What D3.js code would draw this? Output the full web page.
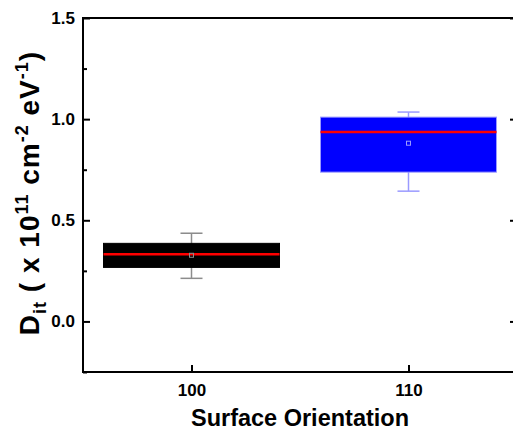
<!DOCTYPE html>
<html>
<head>
<meta charset="utf-8">
<script src="https://cdn.jsdelivr.net/npm/d3@7"></script>
<style>
  body { margin: 0; background: #fff; }
  text { font-family: "Liberation Sans", Arial, sans-serif; font-weight: bold; }
</style>
</head>
<body>
<script>
// box data (units of 1e11 cm^-2 eV^-1)
const categories = ["100", "110"]
const q1       = [0.267, 0.738]
const q3       = [0.386, 1.010]
const medians  = [0.332, 0.936]
const means    = [0.327, 0.881]
const whiskLo  = [0.213, 0.644]
const whiskHi  = [0.436, 1.035]
const fills    = ["#000000", "#0000ff"]
const edges    = ["#000000", "#9a9aff"]
const whiskCol = ["#8c8c8c", "#9a9aff"]
const yTicks   = [0, 0.5, 1.0, 1.5]
const yMinor   = [-0.25, 0.25, 0.75, 1.25]

const W = 513, H = 432
const m = { left: 83, top: 18, right: 517, bottom: 372 }

const svg = d3.select("body").append("svg")
  .attr("width", W).attr("height", H)

// x: categories at 1 and 2, axis from 0.5 to 2.5
const x = d3.scaleLinear().domain([0.5, 2.5]).range([m.left, m.right])
const y = d3.scaleLinear().domain([-0.25, 1.5]).range([m.bottom, m.top])

const boxW = 176

// boxes
categories.forEach((c, i) => {
  const cx = x(i + 1)
  const g = svg.append("g")
  // whisker
  g.append("line")
    .attr("x1", cx).attr("x2", cx)
    .attr("y1", y(whiskLo[i])).attr("y2", y(whiskHi[i]))
    .attr("stroke", whiskCol[i]).attr("stroke-width", 1.5)
  ;[whiskLo[i], whiskHi[i]].forEach(v => {
    g.append("line")
      .attr("x1", cx - 11).attr("x2", cx + 11)
      .attr("y1", y(v)).attr("y2", y(v))
      .attr("stroke", whiskCol[i]).attr("stroke-width", 1.5)
  })
  g.append("rect")
    .attr("x", cx - boxW / 2).attr("y", y(q3[i]))
    .attr("width", boxW).attr("height", y(q1[i]) - y(q3[i]))
    .attr("fill", fills[i]).attr("stroke", edges[i]).attr("stroke-width", 1)
  g.append("line")
    .attr("x1", cx - boxW / 2).attr("x2", cx + boxW / 2)
    .attr("y1", y(medians[i])).attr("y2", y(medians[i]))
    .attr("stroke", "#ff0000").attr("stroke-width", 2.5)
  g.append("rect")
    .attr("x", cx - 2).attr("y", y(means[i]) - 2)
    .attr("width", 4).attr("height", 4)
    .attr("fill", "none").attr("stroke", whiskCol[i]).attr("stroke-width", 1)
})

// frame
svg.append("rect")
  .attr("x", m.left).attr("y", m.top)
  .attr("width", m.right - m.left).attr("height", m.bottom - m.top)
  .attr("fill", "none").attr("stroke", "#000").attr("stroke-width", 2)

// y axis (ticks inward)
const yAxis = d3.axisLeft(y).tickValues(yTicks).tickFormat(d3.format(".1f"))
  .tickSizeInner(-7).tickSizeOuter(0).tickPadding(8)
const ga = svg.append("g").attr("transform", `translate(${m.left},0)`).call(yAxis)
ga.select(".domain").remove()
ga.selectAll("line").attr("stroke-width", 2)
ga.selectAll("text").attr("font-size", 17).attr("fill", "#000")

const gm = svg.append("g").attr("transform", `translate(${m.left},0)`)
  .call(d3.axisLeft(y).tickValues(yMinor).tickSizeInner(-4).tickSizeOuter(0).tickFormat(""))
gm.select(".domain").remove()
gm.selectAll("line").attr("stroke-width", 2)

// right side ticks
const gr = svg.append("g").attr("transform", `translate(${m.right},0)`)
  .call(d3.axisRight(y).tickValues(yTicks).tickSizeInner(-7).tickSizeOuter(0).tickFormat(""))
gr.select(".domain").remove()
gr.selectAll("line").attr("stroke-width", 2)

// x axis
const xAxis = d3.axisBottom(x).tickValues([1, 2]).tickFormat((d, i) => categories[i])
  .tickSizeInner(-7).tickSizeOuter(0).tickPadding(12)
const gx = svg.append("g").attr("transform", `translate(0,${m.bottom})`).call(xAxis)
gx.select(".domain").remove()
gx.selectAll("line").attr("stroke-width", 2)
gx.selectAll("text").attr("font-size", 17).attr("fill", "#000")

// axis titles
svg.append("text")
  .attr("x", (x(1) + x(2)) / 2).attr("y", 426)
  .attr("text-anchor", "middle").attr("font-size", 23.5)
  .text("Surface Orientation")

const yt = svg.append("text")
  .attr("transform", `translate(39,193) rotate(-90)`)
  .attr("text-anchor", "middle").attr("font-size", 28)
  .attr("letter-spacing", 1)
yt.append("tspan").text("D")
yt.append("tspan").attr("font-size", 18).attr("dy", 7).text("it")
yt.append("tspan").attr("dy", -7).text(" ( x 10")
yt.append("tspan").attr("font-size", 18).attr("dy", -11).text("11")
yt.append("tspan").attr("dy", 11).text(" cm")
yt.append("tspan").attr("font-size", 18).attr("dy", -11).text("-2")
yt.append("tspan").attr("dy", 11).text(" eV")
yt.append("tspan").attr("font-size", 18).attr("dy", -11).text("-1")
yt.append("tspan").attr("dy", 11).text(")")
</script>
</body>
</html>
